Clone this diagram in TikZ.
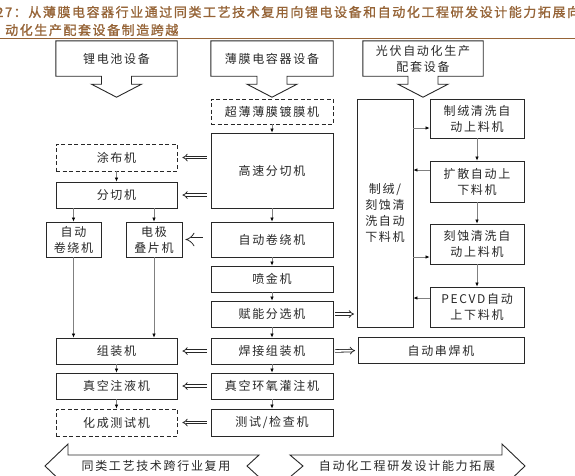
\documentclass[tikz,border=0pt]{standalone}
\usepackage{fontspec}
\setmainfont{Noto Sans CJK SC}[LetterSpace=14]
\newfontfamily\titlefont{Noto Sans CJK SC}[LetterSpace=12, FakeBold=1.2]
\usetikzlibrary{positioning, arrows.meta, calc}
\definecolor{titlebrown}{RGB}{150,100,55}
\definecolor{ink}{RGB}{40,40,40}

\begin{document}
\begin{tikzpicture}[
  x=1pt, y=-1pt,
  every node/.style={font=\fontsize{12}{16}\selectfont, text=ink},
  box/.style={draw=ink, line width=0.9pt, align=center, inner sep=0pt},
  dbox/.style={box, dash pattern=on 4pt off 2.5pt},
  cbox/.style={align=center, inner sep=0pt, minimum height=35pt},
  lcol/.style={minimum width=121pt, minimum height=26pt},
  mcol/.style={minimum width=122pt, minimum height=26pt},
  rcol/.style={minimum width=94pt},
  flow/.style={draw=black!50, line width=0.6pt, -{Latex[length=4pt, width=3.5pt, color=black]}},
  dbl/.style={draw=black!85, line width=0.8pt, double=white, double distance=1.8pt, -{Implies}, shorten <=4pt, shorten >=5pt},
  bigarrow/.style={draw=ink, line width=0.9pt}
]
\useasboundingbox (0,0) rectangle (575,475);
\clip (0,0) rectangle (575,475);
\fill[white] (0,0) rectangle (575,475);

% title
\node[anchor=west, inner sep=0pt, font=\titlefont\fontsize{13}{16}\selectfont, text=titlebrown] (title1) at (-4,12)
  {27：从薄膜电容器行业通过同类工艺技术复用向锂电设备和自动化工程研发设计能力拓展向};
\node[anchor=west, inner sep=0pt, font=\titlefont\fontsize{13}{16}\selectfont, text=titlebrown] (title2) at (5,30)
  {动化生产配套设备制造跨越};
\draw[titlebrown, line width=1pt] (0,38) -- (575,38);

\def\calloutbox#1{%
  \draw[draw=ink, line width=0.9pt] (#1.south west) -- (#1.north west) -- (#1.north east) -- (#1.south east)
    -- ($(#1.south)+(15,0)$) -- ++(0,8) -- ++(10,0) -- ($(#1.south)+(0,21)$)
    -- ++(-25,-13) -- ++(10,0) -- ++(0,-8) -- cycle;
}

% sources
\node[cbox, minimum width=121pt] (li) at (116.5,58.5) {锂电池设备};
\node[cbox, minimum width=122pt] (bm) at (272,58.5) {薄膜电容器设备};
\node[cbox, minimum width=120pt] (gf) at (423,58.5) {光伏自动化生产\\配套设备};
\calloutbox{li}
\calloutbox{bm}
\calloutbox{gf}

% film capacitor line
\node[dbox, mcol, minimum height=25pt] (cb) at (272,111.5) {超薄薄膜镀膜机};
\node[box, mcol, minimum height=75pt] (gs) at (272,170.5) {高速分切机};
\node[box, mcol, minimum height=35pt] (jr) at (272,239.5) {自动卷绕机};
\node[box, mcol] (pj) at (272,279) {喷金机};
\node[box, mcol] (fn) at (272,314) {赋能分选机};
\node[box, mcol] (hj) at (272,351) {焊接组装机};
\node[box, mcol] (hy) at (272,386) {真空环氧灌注机};
\node[box, mcol, minimum height=27pt] (cs) at (272,422.5) {测试/检查机};

% lithium line
\node[dbox, lcol, minimum height=27pt] (tb) at (116.5,157.5) {涂布机};
\node[box, lcol] (fq) at (116.5,195) {分切机};
\node[box, minimum width=55pt, minimum height=35pt] (zj) at (73.5,239.5) {自动\\卷绕机};
\node[box, minimum width=56pt, minimum height=35pt] (dj) at (154,239.5) {电极\\叠片机};
\node[box, lcol] (zz) at (116.5,351) {组装机};
\node[box, lcol] (zy) at (116.5,386) {真空注液机};
\node[dbox, lcol, minimum height=27pt] (hc) at (116.5,422.5) {化成测试机};

% photovoltaic line
\node[box, minimum width=56pt, minimum height=228pt] (big) at (385,213) {制绒/\\刻蚀清\\洗自动\\下料机};
\node[box, rcol, minimum height=39pt] (r1) at (477,118.5) {制绒清洗自\\动上料机};
\node[box, rcol, minimum height=41pt] (r2) at (477,181.5) {扩散自动上\\下料机};
\node[box, rcol, minimum height=40pt] (r3) at (477,244) {刻蚀清洗自\\动上料机};
\node[box, rcol, minimum height=40pt] (r4) at (477,307) {PECVD自动\\上下料机};
\node[box, minimum width=166pt, minimum height=26pt] (ch) at (441,350.5) {自动串焊机};

% flows
\foreach \a/\b in {cb/gs, gs/jr, jr/pj, pj/fn, fn/hj, hj/hy, hy/cs, tb/fq, zz/zy, zy/hc, r1/r2, r2/r3, r3/r4}
  \draw[flow] (\a.south) -- (\b.north);
\draw[flow] (fq.south -| zj.north) -- (zj.north);
\draw[flow] (fq.south -| dj.north) -- (dj.north);
\draw[flow] (zj.south) -- (zj.south |- zz.north);
\draw[flow] (dj.south) -- (dj.south |- zz.north);

\coordinate (p1) at ([yshift=-9.5pt]r1.west);
\coordinate (p2) at ([yshift=11.5pt]r2.west);
\coordinate (p3) at ([yshift=-13pt]r3.west);
\coordinate (p4) at ([yshift=9pt]r4.west);
\draw[flow] (big.east |- p1) -- (p1);
\draw[flow] (p2) -- (big.east |- p2);
\draw[flow] (big.east |- p3) -- (p3);
\draw[flow] (p4) -- (big.east |- p4);

% reuse
\foreach \l in {tb, fq, zz, zy, hc}
  \draw[dbl] (gs.west |- \l.east) -- (\l.east);
\draw[dbl, double distance=4pt, shorten <=8pt, shorten >=3pt] (jr.west) -- (dj.east);
\draw[dbl, shorten <=1.5pt, shorten >=2.5pt] (fn.east) -- (fn.east -| big.west);
\draw[dbl, shorten <=1.5pt, shorten >=2.5pt] (hj.east) -- (ch.west);

% bottom banners
\draw[bigarrow] (68,444) -- (68,455) -- (259,455) -- (247,466) -- (259,477) -- (68,477) -- (68,488) -- (45,466) -- cycle;
\draw[bigarrow] (290,455) -- (502,455) -- (502,444) -- (525,466) -- (502,488) -- (502,477) -- (290,477) -- (303,466) -- cycle;
\node (reuse) at (156,466) {同类工艺技术跨行业复用};
\node (expand) at (407,466) {自动化工程研发设计能力拓展};
\end{tikzpicture}
\end{document}
